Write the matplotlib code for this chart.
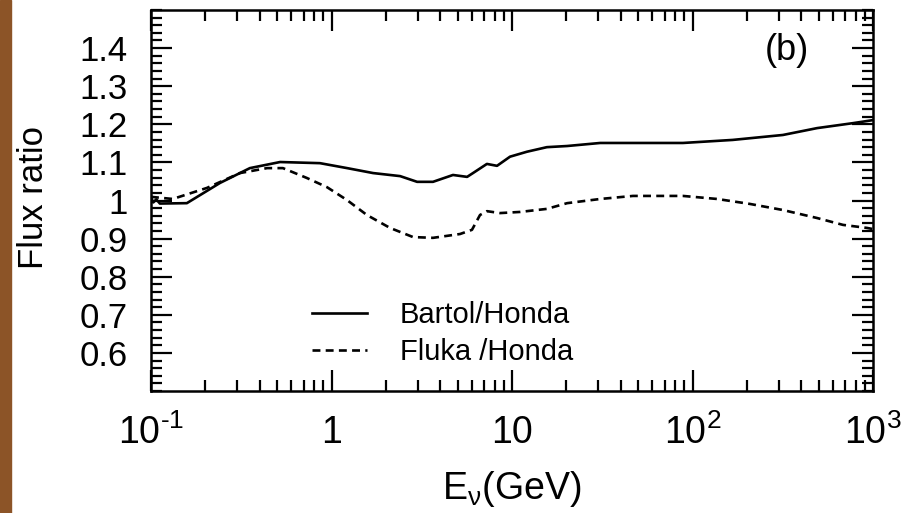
import matplotlib
matplotlib.use("Agg")
import matplotlib.pyplot as plt
import numpy as np
from matplotlib.patches import Rectangle
from matplotlib.ticker import FixedLocator, MultipleLocator, LogLocator, NullFormatter

plt.rcParams['font.family'] = ['Liberation Sans', 'DejaVu Sans']
plt.rcParams['mathtext.fontset'] = 'custom'
plt.rcParams['mathtext.rm'] = 'Liberation Sans'
plt.rcParams['mathtext.it'] = 'Liberation Sans:italic'

# energies in GeV, flux ratios
e_bartol = [0.100, 0.103, 0.107, 0.112, 0.158, 0.241, 0.353, 0.519, 0.863, 1.22,
            1.70, 2.40, 2.98, 3.65, 4.71, 5.64, 6.08, 7.26, 8.26, 9.75,
            12.1, 15.6, 20.2, 30.8, 88.5, 167, 317, 490, 774, 1000]
r_bartol = [1.008, 0.995, 1.003, 0.992, 0.993, 1.046, 1.085, 1.101, 1.098, 1.085,
            1.072, 1.064, 1.049, 1.049, 1.067, 1.062, 1.072, 1.096, 1.091, 1.115,
            1.128, 1.140, 1.143, 1.151, 1.151, 1.159, 1.172, 1.190, 1.203, 1.211]

e_fluka = [0.100, 0.103, 0.132, 0.204, 0.311, 0.440, 0.538, 0.731, 0.944, 1.22,
           1.57, 2.11, 2.83, 3.65, 5.15, 6.00, 6.65, 7.26, 8.59, 11.1,
           15.6, 20.2, 30.8, 46.8, 88.5, 137, 208, 317, 490, 682, 927, 1000]
r_fluka = [1.010, 1.009, 1.004, 1.033, 1.072, 1.085, 1.085, 1.059, 1.035, 1.001,
           0.962, 0.928, 0.904, 0.902, 0.912, 0.923, 0.962, 0.972, 0.967, 0.970,
           0.978, 0.993, 1.004, 1.012, 1.012, 1.004, 0.991, 0.975, 0.954, 0.936,
           0.928, 0.925]

xticks = [0.1, 1, 10, 100, 1000]
xticklabels = [r'$10^{\text{-}1}$', '1', '10', r'$10^{2}$', r'$10^{3}$']
yticks = [0.6, 0.7, 0.8, 0.9, 1.0, 1.1, 1.2, 1.3, 1.4]
yticklabels = ['0.6', '0.7', '0.8', '0.9', '1', '1.1', '1.2', '1.3', '1.4']

fig = plt.figure(figsize=(9.11, 5.13), dpi=100)
ax = fig.add_axes([151/911, 1 - 391/513, 722/911, 381/513])

# brown strip on the left edge
fig.patches.append(Rectangle((0, 0), 11/911, 1, transform=fig.transFigure,
                             color='#8c5427', zorder=0))

ax.plot(e_bartol, r_bartol, color='black', lw=1.9, label='Bartol/Honda')
ax.plot(e_fluka, r_fluka, color='black', lw=1.9, dashes=(3, 2), label='Fluka /Honda')

ax.set_xscale('log')
ax.set_xlim(0.1, 1000)
ax.set_ylim(0.5, 1.5)

ax.xaxis.set_major_locator(FixedLocator(xticks))
ax.set_xticklabels(xticklabels)
ax.xaxis.set_minor_locator(LogLocator(base=10, subs=np.arange(2, 10)))
ax.xaxis.set_minor_formatter(NullFormatter())

ax.set_yticks(yticks)
ax.set_yticklabels(yticklabels)
ax.yaxis.set_minor_locator(MultipleLocator(0.02))

for s in ax.spines.values():
    s.set_linewidth(1.8)

ax.tick_params(which='both', direction='in', top=True, right=True, width=1.6)
ax.tick_params(axis='x', which='major', length=15, labelsize=27, pad=17)
ax.tick_params(axis='x', which='minor', length=8)
ax.tick_params(axis='y', which='major', length=15, labelsize=25, pad=17)
ax.tick_params(axis='y', which='minor', length=8)

ax.set_ylabel('Flux ratio', fontsize=25)
ax.yaxis.set_label_coords(-0.14, 0.507)
ax.set_xlabel(r'E$_\mathrm{\nu}$(GeV)', fontsize=27)
ax.xaxis.set_label_coords(0.5, -0.205)

fig.text(787/911, 1 - 50/513, '(b)', fontsize=26, ha='center', va='center')

leg = ax.legend(loc='center left', bbox_to_anchor=(0.223, 0.15), frameon=False,
                fontsize=21, handlelength=1.9, handletextpad=1.1,
                labelspacing=0.3, borderpad=0, borderaxespad=0)

fig.savefig('out.png', dpi=100)
